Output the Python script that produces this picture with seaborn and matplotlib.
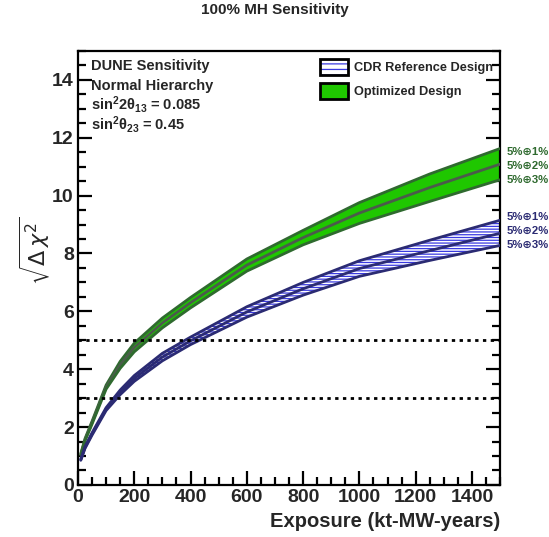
import matplotlib
matplotlib.use("Agg")
import numpy as np
import pandas as pd
import matplotlib.pyplot as plt
import seaborn as sns
from matplotlib.patches import Patch
from matplotlib.legend_handler import HandlerTuple
from matplotlib.ticker import MultipleLocator

# Exposure points (kt-MW-years)
exposure = [10, 25, 50, 100, 150, 200, 300, 400, 600, 800, 1000, 1250, 1500]

# Optimized design: sqrt(delta chi^2) for 5%+1%, 5%+2%, 5%+3% normalisation uncertainty
opt_1 = [1.08, 1.60, 2.20, 3.45, 4.27, 4.90, 5.77, 6.48, 7.81, 8.80, 9.76, 10.75, 11.63]
opt_2 = [1.05, 1.56, 2.15, 3.38, 4.15, 4.75, 5.60, 6.30, 7.60, 8.55, 9.40, 10.28, 11.09]
opt_3 = [1.02, 1.52, 2.10, 3.31, 4.03, 4.60, 5.43, 6.12, 7.39, 8.30, 9.04, 9.80, 10.55]

# CDR reference design
cdr_1 = [0.89, 1.32, 1.80, 2.67, 3.28, 3.78, 4.55, 5.11, 6.16, 7.00, 7.75, 8.46, 9.15]
cdr_2 = [0.87, 1.29, 1.76, 2.62, 3.20, 3.68, 4.42, 4.98, 5.98, 6.78, 7.48, 8.10, 8.70]
cdr_3 = [0.85, 1.26, 1.72, 2.57, 3.12, 3.58, 4.29, 4.85, 5.80, 6.56, 7.21, 7.76, 8.28]

sys_labels = ["5%\u22951%", "5%\u22952%", "5%\u22953%"]
legend_labels = ["CDR Reference Design", "Optimized Design"]
info_lines = ["DUNE Sensitivity", "Normal Hierarchy",
              r"$\mathbf{sin^{2}2\theta_{13}}$ = 0.085",
              r"$\mathbf{sin^{2}\theta_{23}}$ = 0.45"]
sigma_levels = [3, 5]

GREEN_FILL = "#1fc700"
GREEN_EDGE = "#2f6a2f"
GREEN_MID = "#4b5b4b"
BLUE_EDGE = "#2b2b73"
BLUE_HATCH = "#3a3ae0"

sns.set_theme(style="ticks")
plt.rcParams["font.family"] = ["Liberation Sans", "DejaVu Sans"]
plt.rcParams["mathtext.fontset"] = "custom"
plt.rcParams["mathtext.bf"] = "Liberation Sans:bold"
plt.rcParams["mathtext.rm"] = "Liberation Sans:bold"
plt.rcParams["mathtext.it"] = "Liberation Sans:bold"
plt.rcParams["hatch.linewidth"] = 0.9

fig = plt.figure(figsize=(5.49, 5.37), dpi=100)
ax = fig.add_axes([0.142, 0.097, 0.769, 0.808])

# Bands
ax.fill_between(exposure, opt_3, opt_1, facecolor=GREEN_FILL, edgecolor="none", zorder=2)
ax.fill_between(exposure, cdr_3, cdr_1, facecolor="white", edgecolor=BLUE_HATCH,
                hatch="------", linewidth=0, zorder=2)

# Curves drawn through seaborn
rows = []
for name, vals in [("opt_1", opt_1), ("opt_2", opt_2), ("opt_3", opt_3),
                   ("cdr_1", cdr_1), ("cdr_2", cdr_2), ("cdr_3", cdr_3)]:
    for x, v in zip(exposure, vals):
        rows.append({"exposure": x, "value": v, "curve": name})
df = pd.DataFrame(rows)
palette = {"opt_1": GREEN_EDGE, "opt_2": GREEN_MID, "opt_3": GREEN_EDGE,
           "cdr_1": BLUE_EDGE, "cdr_2": BLUE_EDGE, "cdr_3": BLUE_EDGE}
sns.lineplot(data=df, x="exposure", y="value", hue="curve", palette=palette,
             legend=False, linewidth=2.0, ax=ax, zorder=3, sort=False)

for lvl in sigma_levels:
    ax.axhline(lvl, color="black", linestyle=(0, (1.2, 1.6)), linewidth=2.0, zorder=4)

ax.set_xlim(0, 1500)
ax.set_ylim(0, 15)
ax.xaxis.set_major_locator(MultipleLocator(200))
ax.xaxis.set_minor_locator(MultipleLocator(50))
ax.yaxis.set_major_locator(MultipleLocator(2))
ax.yaxis.set_minor_locator(MultipleLocator(0.5))
ax.tick_params(which="both", direction="in", right=True, top=False, width=1.6, color="black")
ax.tick_params(which="major", length=10, labelsize=14, pad=3)
ax.tick_params(which="minor", length=5.5)
for lab in ax.get_xticklabels() + ax.get_yticklabels():
    lab.set_fontweight("bold")
for s in ax.spines.values():
    s.set_visible(True)
    s.set_linewidth(1.6)
    s.set_color("black")

ax.set_xlabel("Exposure (kt-MW-years)", fontsize=14.5, fontweight="bold", loc="right",
              labelpad=4)
ax.set_ylabel(r"$\sqrt{\Delta\,\chi^{2}}$", fontsize=16, fontweight="normal",
              math_fontfamily="dejavusans")
ax.yaxis.set_label_coords(-0.062, 0.54)

fig.text(0.5, 1 - 10 / 537, "100% MH Sensitivity", ha="center", va="center",
         fontsize=11, fontweight="bold")

for i, line in enumerate(info_lines):
    ax.text(0.032, 0.965 - i * 0.0445, line, transform=ax.transAxes, ha="left", va="center",
            fontsize=10.5, fontweight="bold")

# Systematics labels beside the band ends
for i, lab in enumerate(sys_labels):
    ax.text(1.015, 0.767 - i * 0.032, lab, transform=ax.transAxes, ha="left", va="center",
            fontsize=8.2, color=GREEN_EDGE, fontweight="bold", clip_on=False)
    ax.text(1.015, 0.617 - i * 0.032, lab, transform=ax.transAxes, ha="left", va="center",
            fontsize=8.2, color=BLUE_EDGE, fontweight="bold", clip_on=False)

cdr_handle = (Patch(facecolor="white", edgecolor=BLUE_HATCH, hatch="---", linewidth=0),
              Patch(facecolor="none", edgecolor="black", linewidth=2.0))
opt_handle = Patch(facecolor=GREEN_FILL, edgecolor="black", linewidth=2.0)
leg = ax.legend([cdr_handle, opt_handle], legend_labels, loc="upper right",
                bbox_to_anchor=(1.002, 1.0), frameon=False, fontsize=9.2,
                handlelength=2.2, handleheight=1.6, labelspacing=0.6, handletextpad=0.5,
                borderaxespad=0.2, handler_map={tuple: HandlerTuple(ndivide=1, pad=0)})
for t in leg.get_texts():
    t.set_fontweight("bold")

fig.savefig("out.png", dpi=100)
